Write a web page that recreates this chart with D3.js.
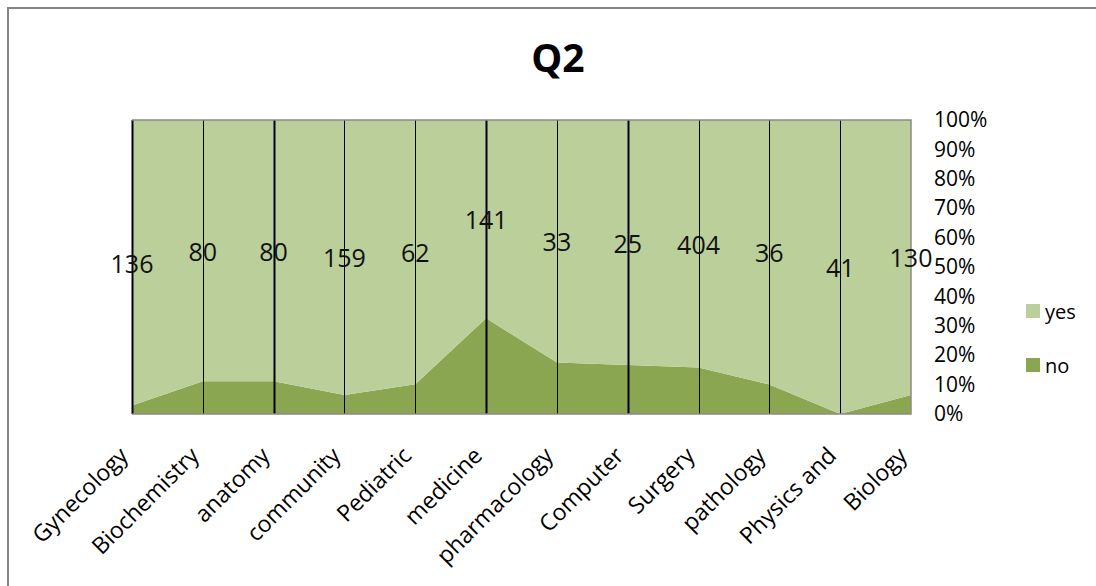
<!DOCTYPE html>
<html>
<head>
<meta charset="utf-8">
<script src="https://cdn.jsdelivr.net/npm/d3@7"></script>
<style>
  html, body { margin: 0; padding: 0; background: #fff; }
  svg { display: block; font-family: "Open Sans", sans-serif; }
</style>
</head>
<body>
<svg id="chart" width="1096" height="586"></svg>
<script>
// Q2 survey answers per department
const categories = ["Gynecology", "Biochemistry", "anatomy", "community", "Pediatric", "medicine",
                    "pharmacology", "Computer", "Surgery", "pathology", "Physics and", "Biology"];
const yesValues = [136, 80, 80, 159, 62, 141, 33, 25, 404, 36, 41, 130];
const noValues  = [4, 10, 10, 11, 7, 68, 7, 5, 76, 4, 0, 9];
const seriesNames = ["no", "yes"];
const yTicks = [0, 0.1, 0.2, 0.3, 0.4, 0.5, 0.6, 0.7, 0.8, 0.9, 1];

const colors = { yes: "#bbcf9a", no: "#8ba650" };

const svg = d3.select("#chart");
const W = 1096, H = 586;
const plot = { left: 132, right: 911, top: 120, bottom: 414 };

// outer chart frame (top and left edges fall inside the canvas)
svg.append("path")
  .attr("d", `M8,${H + 5} L8,8 L${W + 5},8`)
  .attr("fill", "none")
  .attr("stroke", "#858585")
  .attr("stroke-width", 2);

// title
svg.append("text")
  .attr("x", 558).attr("y", 72)
  .attr("text-anchor", "middle")
  .attr("font-size", 39).attr("font-weight", 700)
  .text("Q2");

const rows = categories.map((c, i) => ({ cat: c, no: noValues[i], yes: yesValues[i] }));
const stacked = d3.stack().keys(seriesNames).offset(d3.stackOffsetExpand)(rows);

const x = d3.scalePoint().domain(categories).range([plot.left, plot.right]);
const y = d3.scaleLinear().domain([0, 1]).range([plot.bottom, plot.top]);

const area = d3.area()
  .x(d => x(d.data.cat))
  .y0(d => y(d[0]))
  .y1(d => y(d[1]));

svg.append("g").selectAll("path")
  .data(stacked)
  .join("path")
  .attr("fill", d => colors[d.key])
  .attr("d", area);

// vertical drop lines at each category
const heavyLines = new Set([0, 2, 5, 7]);
svg.append("g").selectAll("line")
  .data(categories.slice(0, -1))
  .join("line")
  .attr("x1", d => Math.round(x(d)) + 0.5)
  .attr("x2", d => Math.round(x(d)) + 0.5)
  .attr("y1", plot.top).attr("y2", plot.bottom)
  .attr("stroke", "#000")
  .attr("stroke-width", (d, i) => heavyLines.has(i) ? 2 : 1);

// plot border: top, right, bottom
svg.append("path")
  .attr("d", `M${plot.left},${plot.top} L${plot.right},${plot.top} L${plot.right},${plot.bottom} L${plot.left},${plot.bottom}`)
  .attr("fill", "none")
  .attr("stroke", "#8a8a8a")
  .attr("stroke-width", 1.5);

// value labels for "yes" centred in the yes band
const yesLayer = stacked.find(s => s.key === "yes");
svg.append("g").selectAll("text")
  .data(yesLayer)
  .join("text")
  .attr("x", d => x(d.data.cat))
  .attr("y", d => y((d[0] + d[1]) / 2))
  .attr("text-anchor", "middle")
  .attr("dominant-baseline", "central")
  .attr("font-size", 25)
  .attr("fill", "#111")
  .text(d => d.data.yes);

// percentage axis on the right
const yAxis = svg.append("g")
  .attr("transform", `translate(934,0)`)
  .call(d3.axisRight(y).tickValues(yTicks).tickFormat(d3.format(".0%")).tickSize(0).tickPadding(0));
yAxis.select(".domain").remove();
yAxis.selectAll("text")
  .attr("font-size", 21)
  .attr("font-family", "Open Sans, sans-serif")
  .attr("fill", "#000");

// category axis with rotated labels
const xAxis = svg.append("g")
  .attr("transform", `translate(0,${plot.bottom})`)
  .call(d3.axisBottom(x).tickSize(0).tickPadding(0));
xAxis.select(".domain").remove();
xAxis.selectAll("text")
  .attr("font-size", 23)
  .attr("font-family", "Open Sans, sans-serif")
  .attr("fill", "#000")
  .attr("text-anchor", "end")
  .attr("dy", null)
  .attr("y", 0)
  .attr("transform", "translate(-3,43) rotate(-45)");

// legend
const legend = svg.append("g").attr("transform", "translate(1026,304)");
const legendKeys = ["yes", "no"];
legend.selectAll("rect")
  .data(legendKeys)
  .join("rect")
  .attr("x", 0).attr("y", (d, i) => i * 54)
  .attr("width", 14).attr("height", 14)
  .attr("fill", d => colors[d]);
legend.selectAll("text")
  .data(legendKeys)
  .join("text")
  .attr("x", 19).attr("y", (d, i) => i * 54 + 7)
  .attr("dominant-baseline", "central")
  .attr("font-size", 20)
  .text(d => d);
</script>
</body>
</html>
